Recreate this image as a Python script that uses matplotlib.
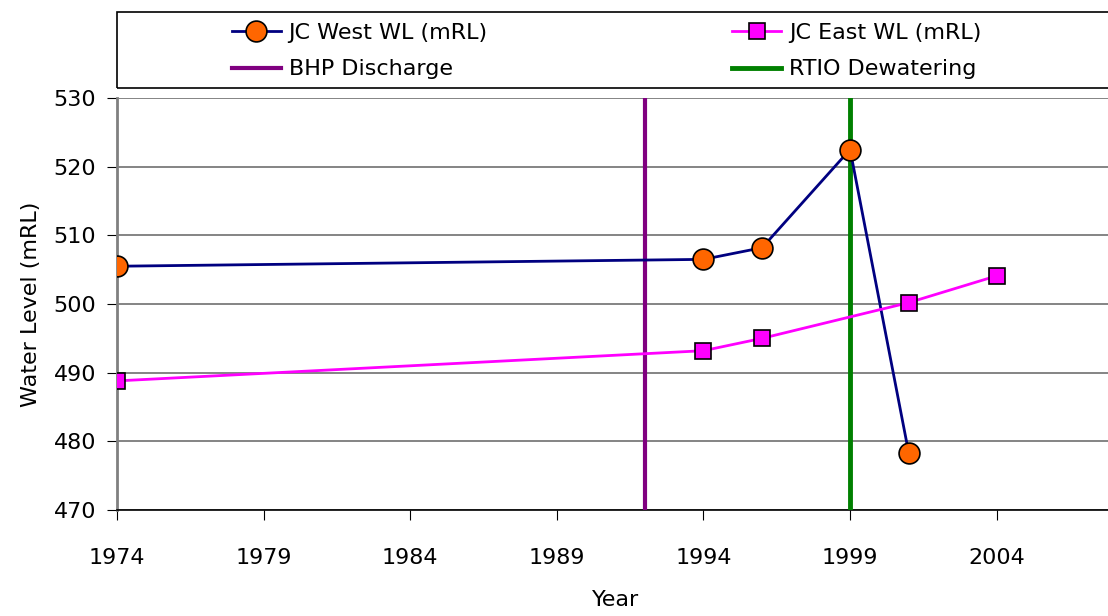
import matplotlib
matplotlib.use("Agg")
import matplotlib.pyplot as plt
from matplotlib.patches import Rectangle

# water level records (mRL)
west_years = [1974, 1994, 1996, 1999, 2001]
west_levels = [505.5, 506.5, 508.2, 522.5, 478.3]
east_years = [1974, 1994, 1996, 2001, 2004]
east_levels = [488.8, 493.2, 495.0, 500.2, 504.1]
bhp_year = 1992
rtio_year = 1999
x_ticks = [1974, 1979, 1984, 1989, 1994, 1999, 2004]
y_ticks = [470, 480, 490, 500, 510, 520, 530]

plt.rcParams['font.family'] = ['DejaVu Sans']

fig = plt.figure(figsize=(11.08, 6.16), dpi=100)
ax = fig.add_axes([117 / 1108, 1 - 510 / 616, 997 / 1108, 412 / 616])

west, = ax.plot(west_years, west_levels, color='#000080', lw=2, marker='o', ms=15,
                mfc='#FF6600', mec='black', mew=1.2, label='JC West WL (mRL)', zorder=4)
east, = ax.plot(east_years, east_levels, color='#FF00FF', lw=2, marker='s', ms=11,
                mfc='#FF00FF', mec='black', mew=1.2, label='JC East WL (mRL)', zorder=4)
bhp = ax.axvline(bhp_year, color='#800080', lw=3, label='BHP Discharge', zorder=3)
rtio = ax.axvline(rtio_year, color='#008000', lw=3.5, label='RTIO Dewatering', zorder=3)

ax.set_xlim(1974, 2008)
ax.set_ylim(470, 530)
ax.set_xticks(x_ticks)
ax.set_yticks(y_ticks)
ax.tick_params(axis='x', direction='out', length=7, pad=20, labelsize=16)
ax.tick_params(axis='y', direction='out', length=7, pad=8, labelsize=16)
ax.yaxis.grid(True, color='#707070', lw=1.2)
ax.set_axisbelow(True)

ax.spines['top'].set_visible(False)
ax.spines['right'].set_visible(False)
ax.spines['left'].set_color('#808080')
ax.spines['left'].set_linewidth(2)
ax.spines['bottom'].set_color('black')
ax.spines['bottom'].set_linewidth(1.2)

ax.set_xlabel('Year', fontsize=16, labelpad=16)
ax.set_ylabel('Water Level (mRL)', fontsize=16, labelpad=9)

# legend box spanning the top of the figure
fig.patches.append(Rectangle((117 / 1108, 1 - 88 / 616), 1000 / 1108, 76 / 616,
                             transform=fig.transFigure, fill=False,
                             edgecolor='black', lw=1.2))
# matplotlib fills legend columns first, so order handles to read row by row
fig.legend([west, bhp, east, rtio],
           [west.get_label(), bhp.get_label(), east.get_label(), rtio.get_label()],
           ncol=2, frameon=False, fontsize=16,
           loc='center left', bbox_to_anchor=(232 / 1108, 1 - 51 / 616),
           columnspacing=11, handlelength=2.2, handletextpad=0.35,
           labelspacing=0.75, borderaxespad=0, borderpad=0)

fig.savefig('out.png', dpi=100)
